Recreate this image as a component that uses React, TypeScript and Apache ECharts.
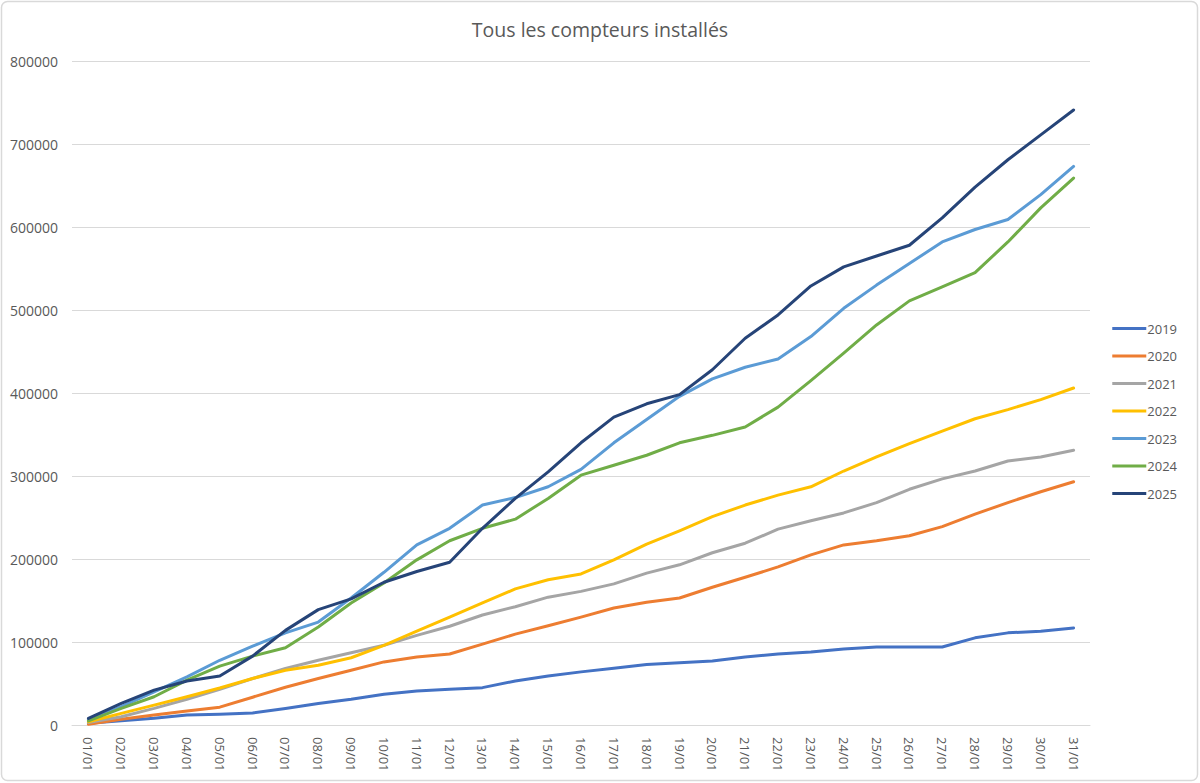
import React, { useEffect, useRef } from "react";
import * as echarts from "echarts";

const days: string[] = [
  "01/01","02/01","03/01","04/01","05/01","06/01","07/01","08/01","09/01","10/01",
  "11/01","12/01","13/01","14/01","15/01","16/01","17/01","18/01","19/01","20/01",
  "21/01","22/01","23/01","24/01","25/01","26/01","27/01","28/01","29/01","30/01","31/01",
];

const s2019 = [2000, 5000, 8000, 12000, 13000, 14500, 20000, 26000, 31000, 37000, 41000, 43000, 45000, 53000, 59000, 64000, 68500, 73000, 75000, 77000, 82000, 85500, 88000, 91500, 94000, 94000, 94000, 105000, 111000, 113000, 117000];
const s2020 = [1000, 7000, 12000, 17000, 21500, 33500, 45500, 56000, 66000, 76000, 82000, 85500, 97500, 109500, 119500, 130000, 141000, 148000, 153000, 166000, 178000, 190500, 205000, 217000, 222000, 228000, 239000, 254000, 268000, 281000, 293000];
const s2021 = [3000, 10000, 20000, 31000, 43000, 56000, 68000, 78000, 87000, 96000, 108000, 119000, 132500, 142500, 154000, 161000, 170000, 183000, 193000, 207500, 219000, 236000, 246000, 255500, 268000, 284000, 296500, 306000, 318000, 323000, 331000];
const s2022 = [4000, 14000, 24000, 34000, 44500, 56000, 66000, 72000, 81000, 96000, 113000, 130000, 147000, 164000, 175000, 182000, 199000, 218000, 234000, 251000, 265000, 277000, 287000, 306000, 323000, 339000, 354000, 369000, 380000, 392000, 406000];
const s2023 = [6000, 22000, 40000, 58000, 78000, 95000, 111000, 124000, 153000, 184000, 217000, 237000, 265000, 274000, 287000, 308000, 340000, 368000, 396000, 417000, 431000, 441000, 468000, 502000, 530000, 556000, 582000, 597000, 609000, 639000, 673000];
const s2024 = [5000, 20000, 34000, 54000, 71000, 83000, 93000, 118000, 147000, 171000, 199000, 222000, 237000, 248000, 273000, 301000, 313000, 325000, 340000, 349000, 359000, 383000, 415000, 448000, 482000, 511000, 528000, 545000, 582000, 623000, 659000];
const s2025 = [8000, 26000, 42000, 53000, 59000, 83000, 114000, 139000, 152000, 172000, 185000, 196000, 237000, 273000, 305000, 340000, 371000, 387000, 398000, 428000, 466000, 494000, 529000, 552000, 565000, 578000, 611000, 648000, 681000, 711000, 741000];

const seriesNames = ["2019", "2020", "2021", "2022", "2023", "2024", "2025"];
const seriesData = [s2019, s2020, s2021, s2022, s2023, s2024, s2025];
const colors = ["#4472C4", "#ED7D31", "#A5A5A5", "#FFC000", "#5B9BD5", "#70AD47", "#264478"];

const FONT = "'Open Sans', 'Noto Sans', sans-serif";

export default function App() {
  const ref = useRef<HTMLDivElement>(null);
  useEffect(() => {
    if (!ref.current) return;
    const chart = echarts.init(ref.current, null, { renderer: "svg" });
    chart.setOption({
      animation: false,
      backgroundColor: "#ffffff",
      color: colors,
      title: {
        text: "Tous les compteurs installés",
        left: "center",
        top: 14,
        textStyle: { fontFamily: FONT, fontSize: 19.5, fontWeight: "normal", color: "#595959" },
      },
      graphic: [
        {
          type: "rect",
          shape: { x: 1.5, y: 1.5, width: 1196, height: 779, r: 6 },
          style: { fill: "none", stroke: "#d9d9d9", lineWidth: 1.5 },
          silent: true,
        },
      ],
      legend: {
        orient: "vertical",
        right: 18,
        top: 316,
        itemWidth: 34,
        itemHeight: 14,
        itemGap: 12.5,
        icon: "path://M0,0 L34,0 L34,3 L0,3 Z",
        textStyle: { fontFamily: FONT, fontSize: 13, color: "#595959", padding: [0, 0, 0, -4], lineHeight: 15 },
        data: seriesNames,
      },
      grid: { left: 72, right: 110, top: 61, bottom: 58, containLabel: false },
      xAxis: {
        type: "category",
        data: days,
        boundaryGap: true,
        axisLine: { lineStyle: { color: "#d9d9d9", width: 1 } },
        axisTick: { show: false },
        axisLabel: {
          rotate: -90,
          interval: 0,
          margin: 12,
          fontFamily: FONT,
          fontSize: 13,
          color: "#595959",
        },
      },
      yAxis: {
        type: "value",
        min: 0,
        max: 800000,
        interval: 100000,
        axisLine: { show: false },
        axisTick: { show: false },
        splitLine: { lineStyle: { color: "#d9d9d9", width: 1 } },
        axisLabel: {
          fontFamily: FONT,
          fontSize: 14,
          color: "#595959",
          margin: 14,
          formatter: (v: number) => String(v),
        },
      },
      series: seriesNames.map((name, i) => ({
        name,
        type: "line",
        data: seriesData[i],
        showSymbol: false,
        symbol: "none",
        lineStyle: { width: 3, color: colors[i], cap: "round", join: "round" },
        itemStyle: { color: colors[i] },
      })),
    });
    return () => chart.dispose();
  }, []);
  return (
    <div
      ref={ref}
      style={{ position: "fixed", left: 0, top: 0, width: 1200, height: 783 }}
    />
  );
}
